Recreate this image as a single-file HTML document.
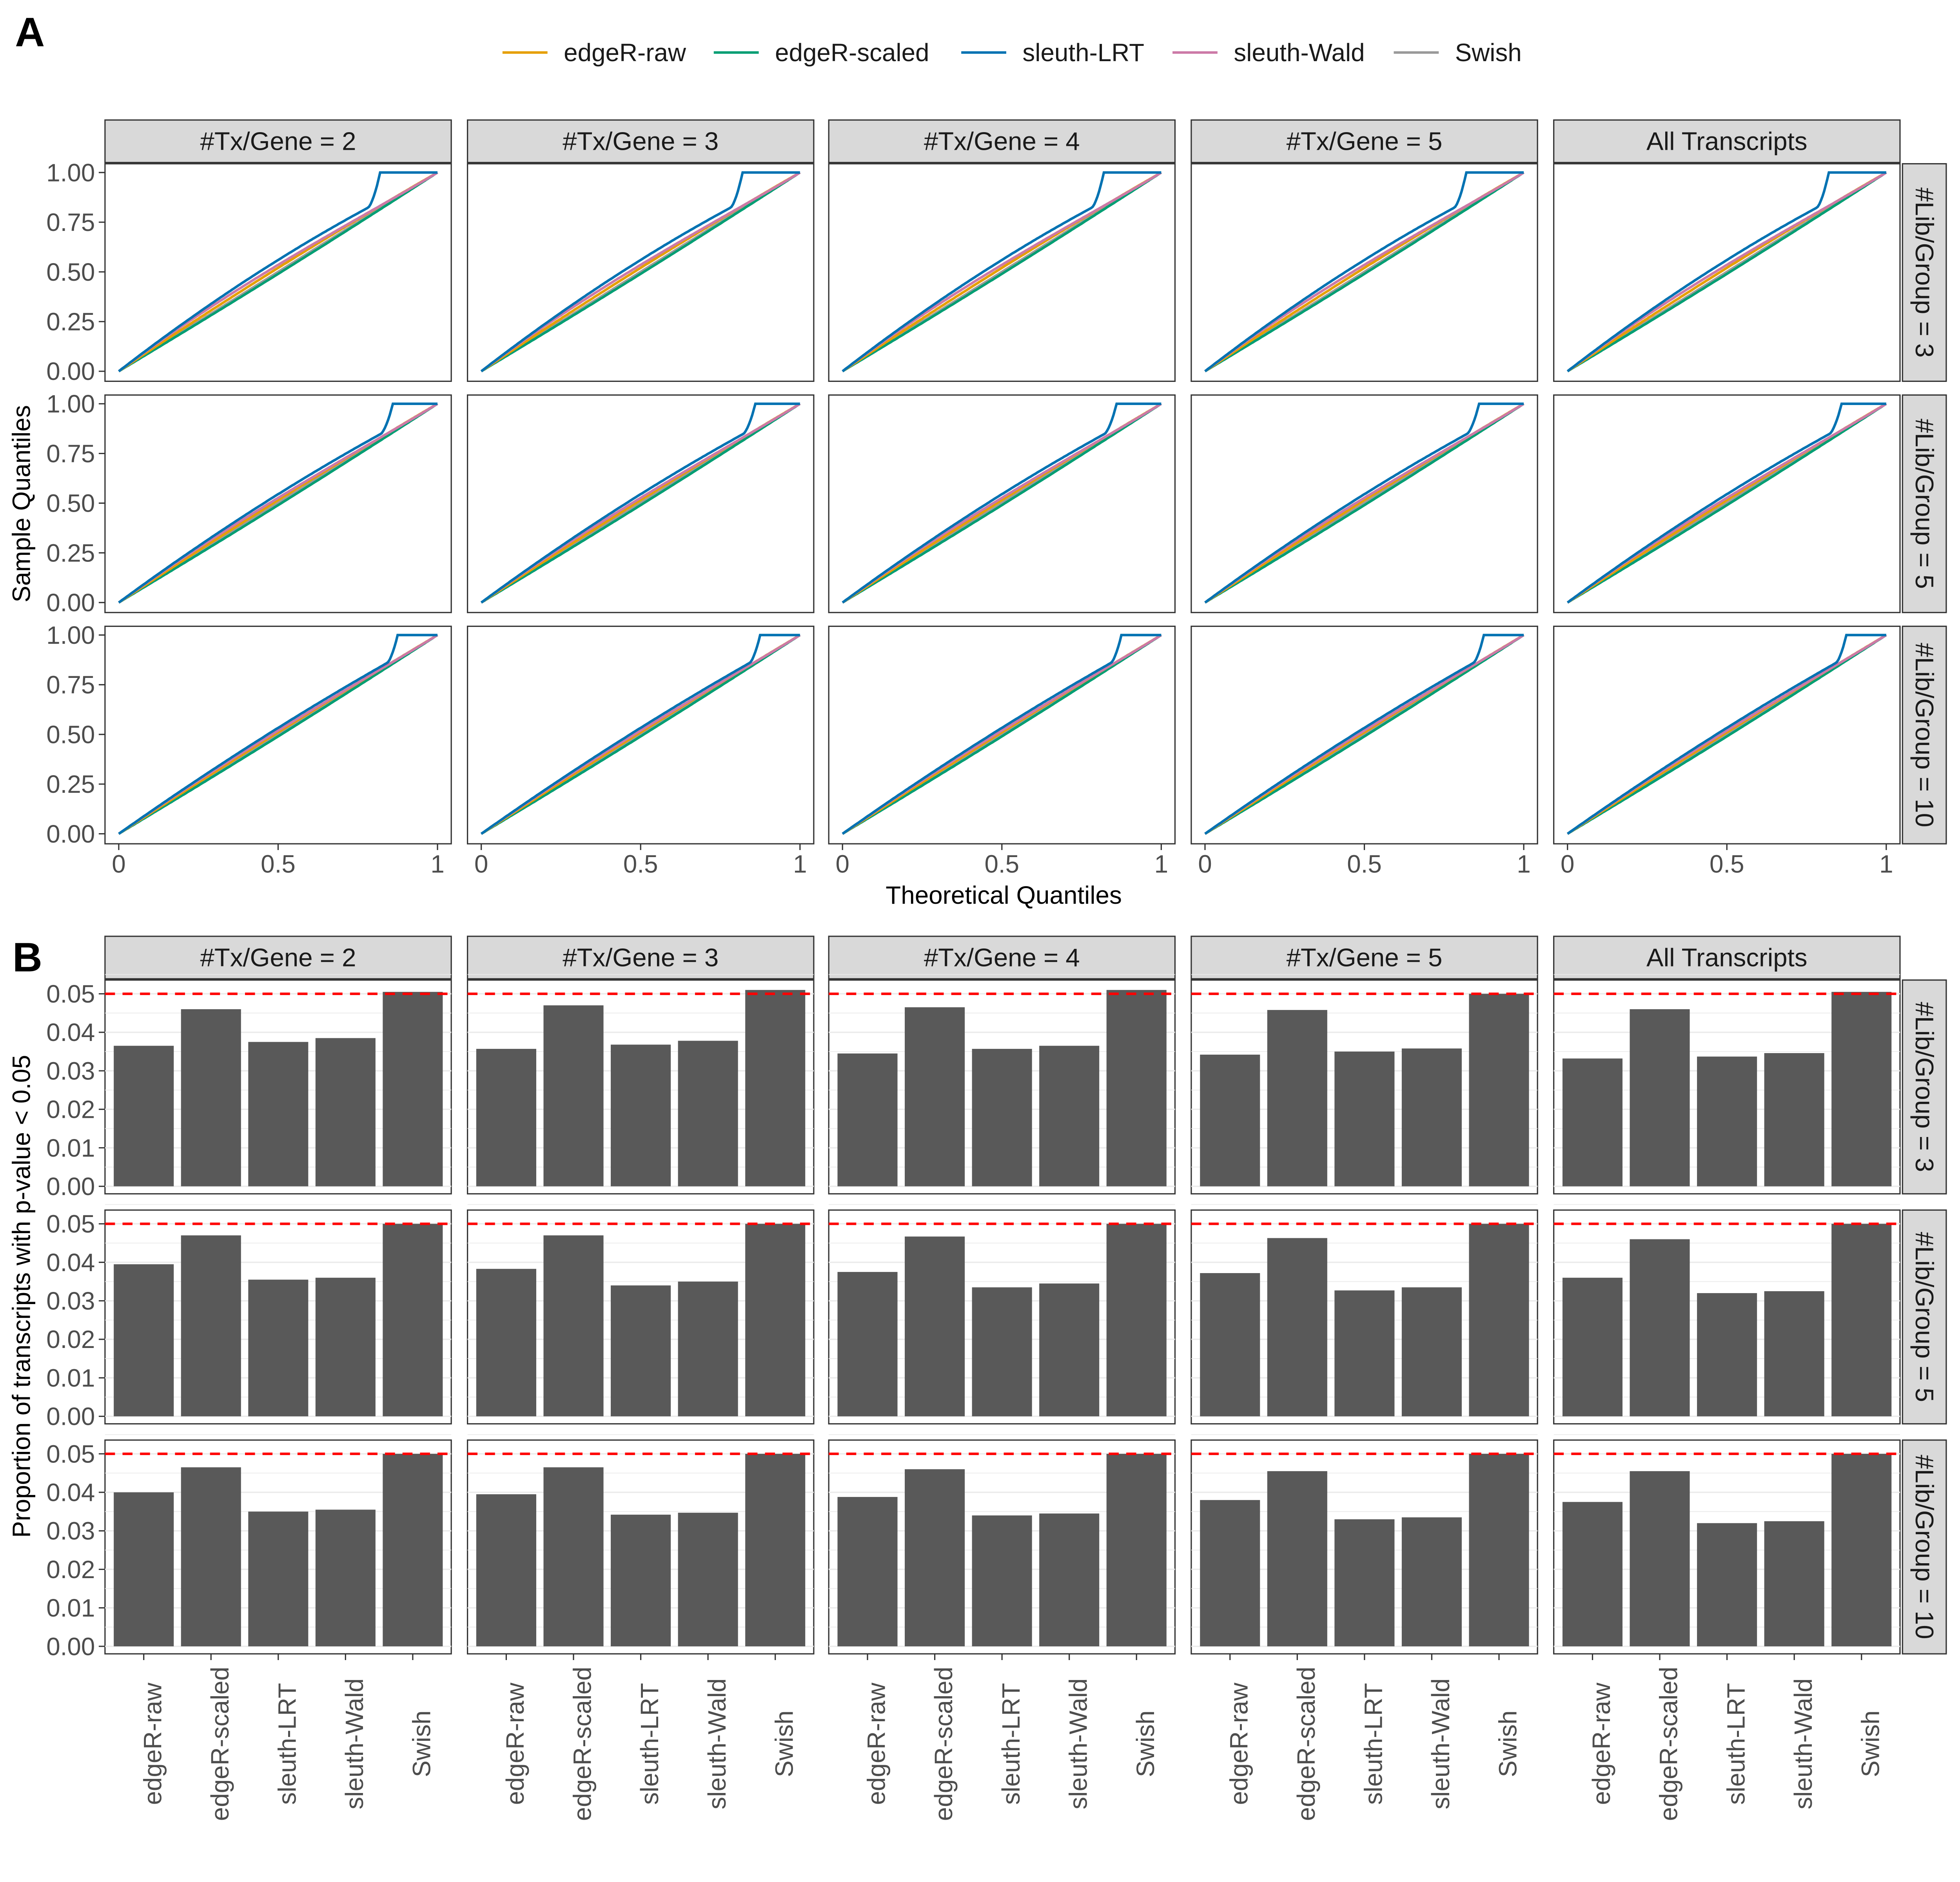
<!DOCTYPE html>
<html><head><meta charset="utf-8">
<style>
html,body{margin:0;padding:0;background:#fff;overflow:hidden;}
svg{display:block;position:absolute;left:0;top:0;width:100vw;height:calc(100vw * 4800 / 5100);}
text{font-family:"Liberation Sans",sans-serif;}
</style></head>
<body>
<svg id="s" viewBox="0 0 1568 1476" preserveAspectRatio="none" xmlns="http://www.w3.org/2000/svg"></svg>
<script>
const S=document.getElementById('s');
let h='';
const cols=[84,374,663,953,1243], PW=277;
const stripsT=['#Tx/Gene = 2','#Tx/Gene = 3','#Tx/Gene = 4','#Tx/Gene = 5','All Transcripts'];
const rowsLab=['#Lib/Group = 3','#Lib/Group = 5','#Lib/Group = 10'];
const FS=20;
function strip(x,y,w,hh,t){h+=`<rect x="${x}" y="${y}" width="${w}" height="${hh}" fill="#d9d9d9" stroke="#333" stroke-width="1"/><text x="${x+w/2}" y="${y+hh/2+7}" font-size="20.5" text-anchor="middle" fill="#1a1a1a">${t}</text>`;}
function rstrip(x,y,w,hh,t){h+=`<rect x="${x}" y="${y}" width="${w}" height="${hh}" fill="#d9d9d9" stroke="#333" stroke-width="1"/><text transform="translate(${x+w/2-7},${y+hh/2}) rotate(90)" font-size="20.5" text-anchor="middle" fill="#1a1a1a">${t}</text>`;}
h+=`<text x="12" y="37" font-size="33" font-weight="bold">A</text><text x="10" y="777" font-size="33" font-weight="bold">B</text>`;
const leg=[[402,'#E69F00','edgeR-raw'],[571,'#009E73','edgeR-scaled'],[769,'#0072B2','sleuth-LRT'],[938,'#CC79A7','sleuth-Wald'],[1115,'#999999','Swish']];
leg.forEach(l=>{h+=`<line x1="${l[0]}" x2="${l[0]+36}" y1="42" y2="42" stroke="${l[1]}" stroke-width="2"/><text x="${l[0]+49}" y="49" font-size="${FS}" fill="#1a1a1a">${l[2]}</text>`;});
const rowA=[131,316,501], PH=174;
const jumps=[[0.78,0.82],[0.82,0.86],[0.84,0.875]];
cols.forEach((cx,ci)=>strip(cx,96,PW,34,stripsT[ci]));
rowA.forEach((ry,ri)=>{
 rstrip(1522,ry,35,PH,rowsLab[ri]);
 const amp=[1,0.75,0.55][ri];
 cols.forEach((cx,ci)=>{
  h+=`<rect x="${cx}" y="${ry}" width="${PW}" height="${PH}" fill="#fff" stroke="#333" stroke-width="1"/>`;
  const X=v=>cx+11+v*255, Y=v=>ry+166-v*159;
  const fns=[
   ['#999999',x=>x],
   ['#009E73',x=>x-0.01*Math.sin(Math.PI*x)],
   ['#E69F00',x=>x+0.08*amp*x*(1-x)],
   ['#CC79A7',x=>x+0.2*amp*x*Math.pow(1-x,1.5)],
   ['#0072B2',x=>{const j=jumps[ri];const f=v=>v+0.24*amp*v*(1-v);
     if(x<=j[0])return f(x); if(x>=j[1])return 1; const t=(x-j[0])/(j[1]-j[0]); const a=f(j[0]); return a+(1-a)*Math.pow(t,1.6);}]];
  fns.forEach(f=>{let p='';for(let i=0;i<=200;i++){const x=i/200;p+=(i?'L':'M')+X(x).toFixed(1)+','+Y(Math.min(1,f[1](x))).toFixed(1);}
   h+=`<path d="${p}" fill="none" stroke="${f[0]}" stroke-width="2"/>`;});
  if(ci==0){[0,0.25,0.5,0.75,1].forEach(v=>{h+=`<line x1="79" x2="84" y1="${Y(v)}" y2="${Y(v)}" stroke="#333"/><text x="76" y="${Y(v)+7}" font-size="${FS}" text-anchor="end" fill="#4d4d4d">${v.toFixed(2)}</text>`;});}
  if(ri==2){[[0,'0'],[0.5,'0.5'],[1,'1']].forEach(v=>{h+=`<line x1="${X(v[0])}" x2="${X(v[0])}" y1="675" y2="680" stroke="#333"/><text x="${X(v[0])}" y="698" font-size="${FS}" text-anchor="middle" fill="#4d4d4d">${v[1]}</text>`;});}
 });
});
h+=`<text x="803" y="723" font-size="${FS}" text-anchor="middle">Theoretical Quantiles</text>`;
h+=`<text transform="translate(24,403) rotate(-90)" font-size="${FS}" text-anchor="middle">Sample Quantiles</text>`;
const rowB=[784,968,1152], BH=171;
const vals=[
[[.0365,.046,.0375,.0385,.0505],[.0357,.047,.0368,.0378,.051],[.0345,.0465,.0357,.0365,.051],[.0342,.0458,.035,.0358,.050],[.0332,.046,.0337,.0346,.0505]],
[[.0395,.047,.0355,.036,.050],[.0383,.047,.034,.035,.050],[.0375,.0467,.0335,.0345,.050],[.0372,.0463,.0327,.0335,.050],[.036,.046,.032,.0325,.050]],
[[.040,.0465,.035,.0355,.050],[.0395,.0465,.0342,.0347,.050],[.0388,.046,.034,.0345,.050],[.038,.0455,.033,.0335,.050],[.0375,.0455,.032,.0325,.050]]];
const cats=['edgeR-raw','edgeR-scaled','sleuth-LRT','sleuth-Wald','Swish'];
cols.forEach((cx,ci)=>strip(cx,749,PW,34,stripsT[ci]));
rowB.forEach((ry,ri)=>{
 rstrip(1522,ry,35,BH,rowsLab[ri]);
 cols.forEach((cx,ci)=>{
  h+=`<rect x="${cx}" y="${ry}" width="${PW}" height="${BH}" fill="#fff" stroke="#333" stroke-width="1"/>`;
  const Y=v=>ry+165-v*3080;
  for(let k=0;k<=11;k++){const v=k*0.005;h+=`<line x1="${cx}" x2="${cx+PW}" y1="${Y(v)}" y2="${Y(v)}" stroke="#ebebeb" stroke-width="${k%2?0.6:1.1}"/>`;}
  vals[ri][ci].forEach((v,k)=>{const c=cx+31+k*53.8;h+=`<rect x="${c-24}" y="${Y(v)}" width="48" height="${v*3080}" fill="#595959"/>`;
   if(ri==2){h+=`<line x1="${c}" x2="${c}" y1="1323" y2="1328" stroke="#333"/><text transform="translate(${c+14},1395) rotate(-90)" font-size="${FS}" text-anchor="middle" fill="#4d4d4d">${cats[k]}</text>`;}});
  h+=`<line x1="${cx}" x2="${cx+PW}" y1="${Y(0.05)}" y2="${Y(0.05)}" stroke="#ff0000" stroke-width="2" stroke-dasharray="8,6"/>`;
  if(ci==0){for(let k=0;k<=5;k++){const v=k*0.01;h+=`<line x1="79" x2="84" y1="${Y(v)}" y2="${Y(v)}" stroke="#333"/><text x="76" y="${Y(v)+7}" font-size="${FS}" text-anchor="end" fill="#4d4d4d">${v.toFixed(2)}</text>`;}}
 });
});
h+=`<text transform="translate(24,1037) rotate(-90)" font-size="${FS}" text-anchor="middle">Proportion of transcripts with p-value &lt; 0.05</text>`;
S.innerHTML=h;
</script>
</body></html>
